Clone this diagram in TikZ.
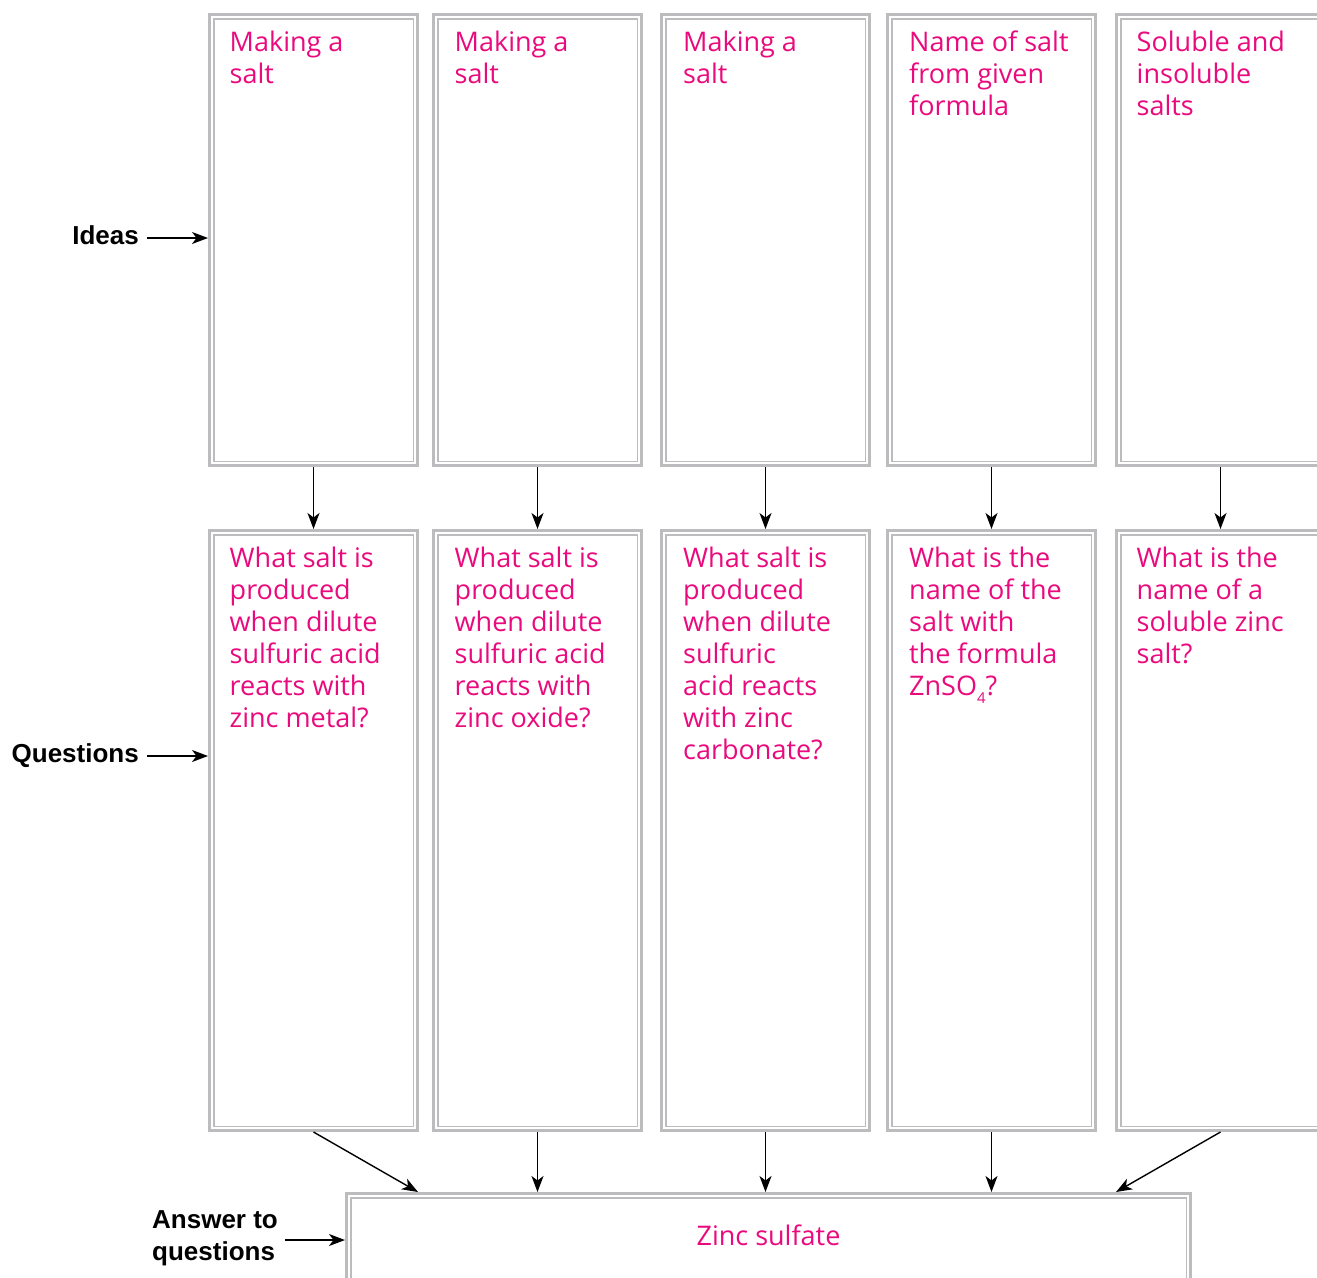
\documentclass[tikz,border=0pt]{standalone}
\usepackage{fontspec}
\setmainfont{Open Sans}
\newfontfamily\labfont{Liberation Sans}
\usetikzlibrary{arrows.meta,calc}
\definecolor{pinktxt}{RGB}{233,10,125}
\definecolor{boxgray}{RGB}{188,188,190}
\begin{document}
\begin{tikzpicture}[x=1pt,y=-1pt,
  cell/.style={draw=boxgray, line width=3pt, rectangle, inner sep=0pt, outer sep=1.5pt,
    minimum width=208pt, anchor=north west,
    path picture={\draw[boxgray, line width=1.5pt]
      ([shift={(4.25pt,-4.25pt)}]path picture bounding box.north west) rectangle
      ([shift={(-4.25pt,4.25pt)}]path picture bounding box.south east);}},
  idea/.style={cell, minimum height=451pt},
  ques/.style={cell, minimum height=600pt},
  txt/.style={font=\fontsize{27}{32}\selectfont, text=pinktxt, align=left, inner sep=0pt, anchor=north west},
  lab/.style={font=\labfont\bfseries\fontsize{26}{32}\selectfont, align=left, inner sep=0pt},
  arr/.style={line width=1.4pt, -{Stealth[length=16pt,width=12pt,inset=4.5pt]}},
]
\useasboundingbox (0,0) rectangle (1317,1277);
\clip (0,0) rectangle (1317,1277);

% idea boxes
\node[idea] (i1) at (208,13) {};
\node[idea] (i2) at (432,13) {};
\node[idea] (i3) at (660,13) {};
\node[idea] (i4) at (886,13) {};
\node[idea] (i5) at (1115,13) {};
% question boxes
\node[ques] (q1) at (208,529) {};
\node[ques] (q2) at (432,529) {};
\node[ques] (q3) at (660,529) {};
\node[ques] (q4) at (886,529) {};
\node[ques] (q5) at (1115,529) {};
% answer box
\node[cell, minimum width=844pt, minimum height=150pt] (ans) at (345,1192) {};

% texts in idea boxes
\node[txt] (ti1) at ($(i1.north west)+(21.5,16)$) {\strut Making a\\salt};
\node[txt] (ti2) at ($(i2.north west)+(22.5,16)$) {\strut Making a\\salt};
\node[txt] (ti3) at ($(i3.north west)+(23,16)$) {\strut Making a\\salt};
\node[txt] (ti4) at ($(i4.north west)+(23,16)$) {\strut Name of salt\\from given\\formula};
\node[txt] (ti5) at ($(i5.north west)+(21.5,16)$) {\strut Soluble and\\insoluble\\salts};
% texts in question boxes
\node[txt] (tq1) at ($(q1.north west)+(21.5,16)$) {\strut What salt is\\produced\\when dilute\\sulfuric acid\\reacts with\\zinc metal?};
\node[txt] (tq2) at ($(q2.north west)+(22.5,16)$) {\strut What salt is\\produced\\when dilute\\sulfuric acid\\reacts with\\zinc oxide?};
\node[txt] (tq3) at ($(q3.north west)+(23,16)$) {\strut What salt is\\produced\\when dilute\\sulfuric\\acid reacts\\with zinc\\carbonate?};
\node[txt] (tq4) at ($(q4.north west)+(23,16)$) {\strut What is the\\name of the\\salt with\\the formula\\ZnSO\raisebox{-0.3em}{\fontsize{15}{15}\selectfont 4}?};
\node[txt] (tq5) at ($(q5.north west)+(21.5,16)$) {\strut What is the\\name of a\\soluble zinc\\salt?};
% answer text
\node[txt, anchor=base] (ta) at ($(ans.north)+(0,53)$) {Zinc sulfate};

% left labels
\node[lab, anchor=base east] (lI) at (139,244) {Ideas};
\coordinate (sI) at (147,238);
\node[lab, anchor=base east] (lQ) at (139,762) {Questions};
\coordinate (sQ) at (147,756);
\node[lab, anchor=north west] (lA) at (152,1205.6) {\strut Answer to\\questions};
\coordinate (sA) at (285,1240);

\draw[arr] (sI) -- (sI -| i1.west);
\draw[arr] (sQ) -- (sQ -| q1.west);
\draw[arr] (sA) -- (sA -| ans.west);

% idea -> question
\foreach \k in {1,...,5}{
  \draw[arr] (i\k.south) -- (q\k.north);
}
% question -> answer
\draw[arr] (q1.south) -- ($(ans.north west)+(73,0)$);
\draw[arr] (q2.south) -- (q2.south |- ans.north);
\draw[arr] (q3.south) -- (q3.south |- ans.north);
\draw[arr] (q4.south) -- (q4.south |- ans.north);
\draw[arr] (q5.south) -- ($(ans.north east)+(-76,0)$);
\end{tikzpicture}
\end{document}
